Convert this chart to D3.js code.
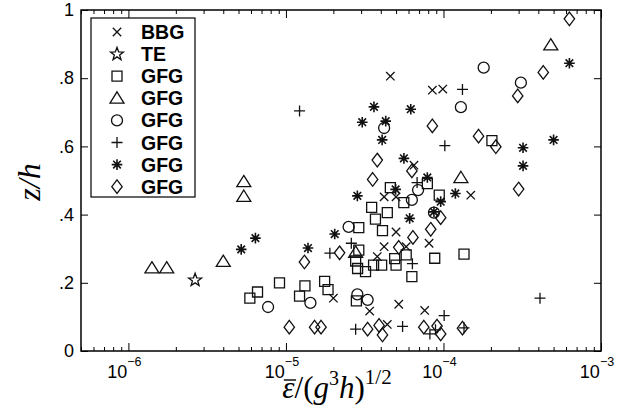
<!DOCTYPE html>
<html>
<head>
<meta charset="utf-8">
<script src="https://cdn.jsdelivr.net/npm/d3@7"></script>
<style>
  body { margin: 0; background: #fff; }
  svg { display: block; }
</style>
</head>
<body>
<script>
// [eps/(g^3 h)^1/2, z/h]
var bbg = [
  [4.6e-5, 0.806], [8.5e-5, 0.765], [9.9e-5, 0.768], [6.5e-5, 0.545], [1.49e-4, 0.457],
  [4.2e-5, 0.452], [5.0e-5, 0.452], [5.0e-5, 0.349], [4.2e-5, 0.306], [5.8e-5, 0.306],
  [8.1e-5, 0.316], [3.8e-5, 0.277], [2.0e-5, 0.155], [3.4e-5, 0.117], [5.2e-5, 0.137],
  [7.6e-5, 0.119], [4.4e-5, 0.078]
];
var te = [[2.65e-6, 0.208]];
var gfgSquare = [
  [5.9e-6, 0.155], [6.6e-6, 0.173], [9.1e-6, 0.200], [1.32e-5, 0.191], [1.22e-5, 0.161],
  [1.76e-5, 0.204], [1.85e-5, 0.180], [2.8e-5, 0.147], [4.6e-5, 0.479], [3.5e-5, 0.421],
  [4.4e-5, 0.406], [3.7e-5, 0.387], [4.1e-5, 0.353], [2.9e-5, 0.362], [2.9e-5, 0.296],
  [2.77e-5, 0.264], [2.85e-5, 0.242], [3.2e-5, 0.233], [3.6e-5, 0.252], [4.05e-5, 0.252],
  [4.9e-5, 0.271], [5.0e-5, 0.252], [5.8e-5, 0.282], [6.3e-5, 0.218], [8.8e-5, 0.272],
  [1.35e-4, 0.284], [5.6e-5, 0.435], [7.9e-5, 0.491], [9.4e-5, 0.457], [2.03e-4, 0.617]
];
var gfgTriangle = [
  [1.41e-6, 0.243], [1.75e-6, 0.243], [4.0e-6, 0.262], [5.4e-6, 0.496], [5.4e-6, 0.453],
  [2.77e-5, 0.289], [1.29e-4, 0.508], [4.8e-4, 0.897]
];
var gfgCircle = [
  [7.7e-6, 0.129], [1.43e-5, 0.141], [2.5e-5, 0.364], [2.84e-5, 0.166], [3.3e-5, 0.150],
  [4.2e-5, 0.654], [6.9e-5, 0.472], [6.3e-5, 0.443], [8.7e-5, 0.406], [1.29e-4, 0.715],
  [1.8e-4, 0.831], [3.1e-4, 0.787]
];
var gfgPlus = [
  [1.22e-5, 0.704], [1.9e-5, 0.287], [2.6e-5, 0.316], [2.77e-5, 0.064], [6.8e-5, 0.494],
  [6.35e-5, 0.256], [1.32e-4, 0.767], [1.02e-4, 0.602], [4.1e-4, 0.155], [1.01e-4, 0.104],
  [5.5e-5, 0.072], [8.2e-5, 0.050], [8.9e-5, 0.062], [1.35e-4, 0.068]
];
var gfgStar = [
  [5.2e-6, 0.298], [6.4e-6, 0.331], [1.38e-5, 0.302], [2.04e-5, 0.343], [2.84e-5, 0.455],
  [3.05e-5, 0.671], [3.62e-5, 0.716], [4.3e-5, 0.674], [4.08e-5, 0.619], [5.61e-5, 0.565],
  [6.2e-5, 0.709], [7.9e-5, 0.509], [4.97e-5, 0.474], [6.1e-5, 0.389], [8.7e-5, 0.408],
  [9.6e-5, 0.438], [1.19e-4, 0.462], [3.2e-4, 0.596], [3.2e-4, 0.543], [5.0e-4, 0.619],
  [6.3e-4, 0.844]
];
var gfgDiamond = [
  [1.05e-5, 0.070], [1.52e-5, 0.070], [1.67e-5, 0.070], [1.31e-5, 0.261], [2.19e-5, 0.288],
  [3.3e-5, 0.064], [3.9e-5, 0.075], [4.1e-5, 0.047], [3.8e-5, 0.560], [3.55e-5, 0.503],
  [6.3e-5, 0.528], [8.5e-5, 0.660], [1.67e-4, 0.630], [2.15e-4, 0.599], [2.96e-4, 0.748],
  [4.3e-4, 0.817], [6.3e-4, 0.974], [3.0e-4, 0.475], [9.6e-5, 0.391], [8.3e-5, 0.357],
  [6.4e-5, 0.333], [5.2e-5, 0.304], [7.5e-5, 0.070], [9.1e-5, 0.073], [9.6e-5, 0.050],
  [1.32e-4, 0.067]
];

var legendLabels = ["BBG", "TE", "GFG", "GFG", "GFG", "GFG", "GFG", "GFG"];
var xMajorTicks = [1e-6, 1e-5, 1e-4, 1e-3];
var xTickExp = ["\u22126", "\u22125", "\u22124", "\u22123"];
var yTicks = [0, 0.2, 0.4, 0.6, 0.8, 1];

var series = [
  { shape: "x", pts: bbg },
  { shape: "pent", pts: te },
  { shape: "square", pts: gfgSquare },
  { shape: "tri", pts: gfgTriangle },
  { shape: "circle", pts: gfgCircle },
  { shape: "plus", pts: gfgPlus },
  { shape: "star", pts: gfgStar },
  { shape: "diamond", pts: gfgDiamond }
];

var width = 630, height = 410;
var mLeft = 81, mRight = 601, mTop = 10, mBottom = 351;

var svg = d3.select("body").append("svg")
    .attr("width", width)
    .attr("height", height);

var x = d3.scaleLog().domain([5e-7, 1e-3]).range([mLeft, mRight]);
var y = d3.scaleLinear().domain([0, 1]).range([mBottom, mTop]);

// minor log ticks
var xMinor = [];
for (var e = -7; e <= -4; e++) {
  for (var k = 2; k <= 9; k++) {
    var v = k * Math.pow(10, e);
    if (v >= 5e-7 && v <= 1e-3) xMinor.push(v);
  }
}

function markerPath(shape) {
  switch (shape) {
    case "x": return "M-4.2,-4.2L4.2,4.2M-4.2,4.2L4.2,-4.2";
    case "plus": return "M-5.5,0H5.5M0,-5.5V5.5";
    case "star": return "M-5.3,0H5.3M0,-5.3V5.3M-3.8,-3.8L3.8,3.8M-3.8,3.8L3.8,-3.8";
    case "square": return "M-5,-5H5V5H-5Z";
    case "tri": return "M0,-6.5L7,4.8H-7Z";
    case "diamond": return "M0,-6.8L5.2,0L0,6.8L-5.2,0Z";
    case "circle": return "M5.5,0A5.5,5.5 0 1,1 -5.5,0A5.5,5.5 0 1,1 5.5,0Z";
    case "pent":
      var p = [];
      for (var i = 0; i < 10; i++) {
        var r = i % 2 === 0 ? 6.8 : 2.8;
        var a = -Math.PI / 2 + i * Math.PI / 5;
        p.push([r * Math.cos(a), r * Math.sin(a)]);
      }
      return "M" + p.join("L") + "Z";
  }
}

var plot = svg.append("g");

series.forEach(function(s) {
  plot.selectAll(null)
    .data(s.pts)
    .enter().append("path")
      .attr("transform", function(d) { return "translate(" + x(d[0]) + "," + y(d[1]) + ")"; })
      .attr("d", markerPath(s.shape))
      .attr("fill", "none")
      .attr("stroke", "#111")
      .attr("stroke-width", s.shape === "star" ? 1.6 : 1.3);
});

// axes (ticks inward on all four sides)
function styleAxis(g) {
  g.select(".domain").remove();
  g.selectAll("line").attr("stroke", "#000").attr("stroke-width", 1);
}

svg.append("g").attr("transform", "translate(0," + mBottom + ")")
  .call(d3.axisBottom(x).tickValues(xMinor).tickSize(-4).tickFormat(""))
  .call(styleAxis);
svg.append("g").attr("transform", "translate(0," + mTop + ")")
  .call(d3.axisTop(x).tickValues(xMinor).tickSize(-4).tickFormat(""))
  .call(styleAxis);
svg.append("g").attr("transform", "translate(0," + mBottom + ")")
  .call(d3.axisBottom(x).tickValues(xMajorTicks).tickSize(-8).tickFormat(""))
  .call(styleAxis);
svg.append("g").attr("transform", "translate(0," + mTop + ")")
  .call(d3.axisTop(x).tickValues(xMajorTicks).tickSize(-8).tickFormat(""))
  .call(styleAxis);

var yFmt = function(d) {
  if (d === 0) return "0";
  if (d === 1) return "1";
  return d3.format(".1f")(d).replace(/^0/, "");
};
var yAxis = svg.append("g").attr("transform", "translate(" + mLeft + ",0)")
  .call(d3.axisLeft(y).tickValues(yTicks).tickSize(-7).tickPadding(7).tickFormat(yFmt))
  .call(styleAxis);
yAxis.selectAll("text")
  .attr("font-family", "Liberation Sans, Arial, sans-serif")
  .attr("font-size", 18)
  .attr("fill", "#000");
svg.append("g").attr("transform", "translate(" + mRight + ",0)")
  .call(d3.axisRight(y).tickValues(yTicks).tickSize(-7).tickFormat(""))
  .call(styleAxis);

svg.append("rect")
  .attr("x", mLeft).attr("y", mTop)
  .attr("width", mRight - mLeft).attr("height", mBottom - mTop)
  .attr("fill", "none").attr("stroke", "#000").attr("stroke-width", 1.5);

// x tick labels 10^n
xMajorTicks.forEach(function(v, i) {
  var t = svg.append("text")
    .attr("x", x(v) - 4)
    .attr("y", 378)
    .attr("text-anchor", "middle")
    .attr("font-family", "Liberation Sans, Arial, sans-serif")
    .attr("font-size", 18)
    .attr("fill", "#000");
  t.append("tspan").text("10");
  t.append("tspan").attr("dy", -12).attr("font-size", 12.5).text(xTickExp[i]);
});

// legend
var lg = svg.append("g");
lg.append("rect")
  .attr("x", 91).attr("y", 18)
  .attr("width", 104).attr("height", 179)
  .attr("fill", "#fff").attr("stroke", "#000").attr("stroke-width", 1.2);
legendLabels.forEach(function(lab, i) {
  var ly = 32 + i * 22.1;
  lg.append("path")
    .attr("transform", "translate(117," + ly + ")")
    .attr("d", markerPath(series[i].shape))
    .attr("fill", "none")
    .attr("stroke", "#111")
    .attr("stroke-width", series[i].shape === "star" ? 1.6 : 1.3);
  lg.append("text")
    .attr("x", 141).attr("y", ly + 7)
    .attr("font-family", "Liberation Sans, Arial, sans-serif")
    .attr("font-weight", "bold")
    .attr("font-size", 19.5)
    .attr("fill", "#000")
    .text(lab);
});

// axis titles
var xt = svg.append("text")
  .attr("x", 337)
  .attr("y", 398)
  .attr("text-anchor", "middle")
  .attr("font-family", "Liberation Serif, Times New Roman, serif")
  .attr("font-style", "italic")
  .attr("font-size", 31)
  .attr("fill", "#000");
xt.append("tspan").text("\u03b5");
xt.append("tspan").attr("font-style", "normal").text("/(");
xt.append("tspan").text("g");
xt.append("tspan").attr("dy", -13).attr("font-size", 20).attr("font-style", "normal").text("3");
xt.append("tspan").attr("dy", 13).text("h");
xt.append("tspan").attr("font-style", "normal").text(")");
xt.append("tspan").attr("dy", -14).attr("font-size", 21).attr("font-style", "normal").text("1/2");

var n = xt.node();
var s0 = n.getStartPositionOfChar(0), e0 = n.getEndPositionOfChar(0);
svg.append("line")
  .attr("x1", s0.x + 1.5).attr("x2", e0.x + 1.5)
  .attr("y1", 380).attr("y2", 380)
  .attr("stroke", "#000").attr("stroke-width", 1.4);

svg.append("text")
  .attr("transform", "translate(40,182) rotate(-90)")
  .attr("text-anchor", "middle")
  .attr("font-family", "Liberation Serif, Times New Roman, serif")
  .attr("font-style", "italic")
  .attr("font-size", 32)
  .attr("fill", "#000")
  .text("z/h");
</script>
</body>
</html>
